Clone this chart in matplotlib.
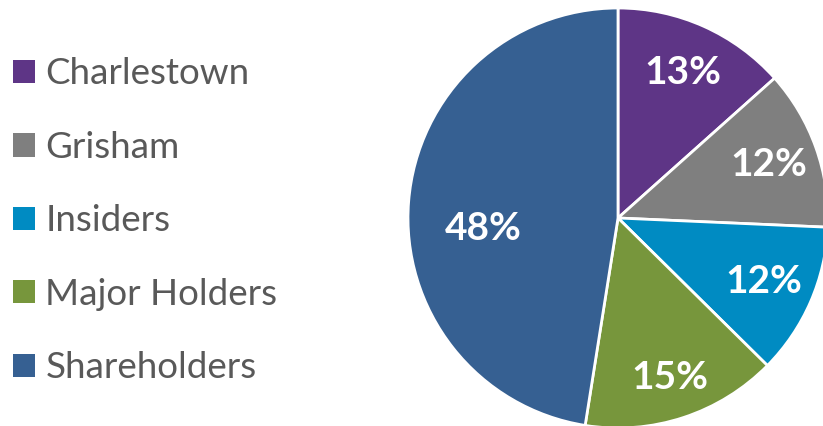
import matplotlib.pyplot as plt

# données
categories = ["Charlestown", "Grisham", "Insiders", "Major Holders", "Shareholders"]
parts = [13.4, 12.3, 11.7, 15.1, 47.5]
etiquettes = ["13%", "12%", "12%", "15%", "48%"]
couleurs = ["#5E3586", "#7F7F7F", "#008BC2", "#77963C", "#366092"]

fig = plt.figure(figsize=(8.23, 4.26), dpi=100)
ax = fig.add_axes([408 / 823, -2 / 426, 420 / 823, 420 / 426])

wedges, textes = ax.pie(parts, colors=couleurs, startangle=90, counterclock=False,
                        labels=etiquettes, labeldistance=0.76,
                        wedgeprops=dict(edgecolor="white", linewidth=2))
for t in textes:
    t.set_color("white")
    t.set_fontsize(28)
    t.set_fontweight("bold")
    t.set_family("Lato")
    t.set_ha("center")
    t.set_va("center")
# le 48% est plus proche du centre et un peu plus bas
textes[4].set_position((-0.64, -0.05))
x, y = textes[3].get_position()
textes[3].set_position((x * 1.05, y * 1.05))
ax.set_xlim(-1, 1)
ax.set_ylim(-1, 1)
ax.set_aspect("equal")

leg = fig.legend(wedges, categories, loc="upper left", bbox_to_anchor=(-0.002, 0.90),
                 frameon=False, prop={"family": "Lato", "size": 26.5},
                 handlelength=0.6, handleheight=0.6, handletextpad=0.28,
                 labelspacing=1.1, borderaxespad=0)
for t in leg.get_texts():
    t.set_color("#595959")
for h in leg.legend_handles:
    h.set_edgecolor("none")

fig.savefig("out.png", dpi=100)
